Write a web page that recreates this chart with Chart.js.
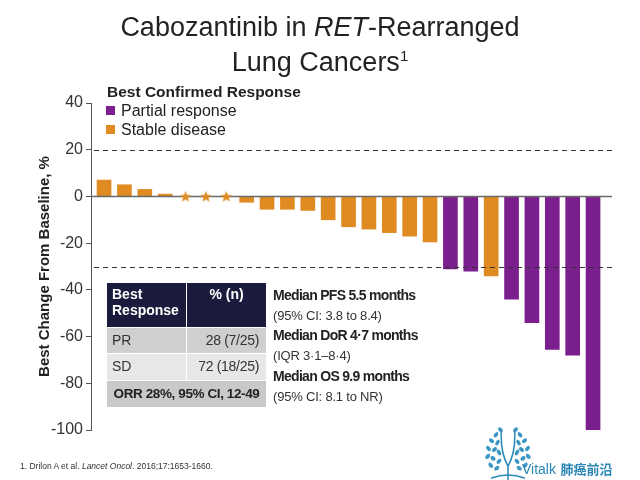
<!DOCTYPE html>
<html>
<head>
<meta charset="utf-8">
<script src="https://cdn.jsdelivr.net/npm/chart.js@4/dist/chart.umd.min.js"></script>
<style>
  html, body { margin: 0; padding: 0; background: #fff; }
  body { width: 640px; height: 480px; overflow: hidden; position: relative;
         font-family: "Liberation Sans", Arial, sans-serif; color: #222; }
  #c { position: absolute; left: 0; top: 0; }
  .abs { position: absolute; white-space: nowrap; }
  .title { left: 0; width: 640px; text-align: center; font-size: 27px; color: #222; line-height: 32px; }
  .leg-title { left: 107px; top: 83px; font-size: 15.5px; font-weight: bold; color: #222; }
  .leg-item { left: 106px; font-size: 16px; color: #222; line-height: 19px; }
  .sw { display: inline-block; width: 9px; height: 9px; margin-right: 6px; vertical-align: 1px; }
  #tbl { left: 107px; top: 283px; width: 159px; height: 124px; font-size: 14px; }
  #tbl .cell { position: absolute; box-sizing: border-box; }
  .stat { left: 273px; font-size: 13px; color: #333; letter-spacing: -0.2px; }
  .stat b { color: #222; font-size: 14px; letter-spacing: -0.7px; }
  .foot { left: 20px; top: 461px; font-size: 8.5px; color: #333; }
  .brand { left: 522px; top: 459px; color: #2a86b4; }
</style>
</head>
<body>
<canvas id="c" width="640" height="480"></canvas>

<div class="abs title" style="top:11px">Cabozantinib in <i>RET</i>-Rearranged</div>
<div class="abs title" style="top:46px">Lung Cancers<sup style="font-size:15px;vertical-align:10px;line-height:0">1</sup></div>

<div class="abs leg-title">Best Confirmed Response</div>
<div class="abs leg-item" id="leg1" style="top:101px"></div>
<div class="abs leg-item" id="leg2" style="top:120px"></div>

<div class="abs" id="tbl"></div>

<div class="abs stat" style="top:287px"><b>Median PFS 5.5 months</b></div>
<div class="abs stat" style="top:308px">(95% CI: 3.8 to 8.4)</div>
<div class="abs stat" style="top:327px"><b>Median DoR 4·7 months</b></div>
<div class="abs stat" style="top:348px">(IQR 3·1–8·4)</div>
<div class="abs stat" style="top:368px"><b>Median OS 9.9 months</b></div>
<div class="abs stat" style="top:389px">(95% CI: 8.1 to NR)</div>

<div class="abs foot">1. Drilon A et al. <i>Lancet Oncol</i>. 2016;17:1653-1660.</div>

<svg class="abs" style="left:481px;top:423px" width="54" height="57" viewBox="0 0 72 58" preserveAspectRatio="none">
  <g fill="none" stroke="#2a86b4" stroke-width="2" stroke-linecap="round">
    <path d="M36 58 L36 44 M36 44 C30 36 26 26 27 8 M36 44 C42 36 46 26 45 8"/>
    <path d="M14 56 Q36 50 58 56" stroke-width="1.5"/>
  </g>
  <g fill="#3d97c2">
    <ellipse cx="20" cy="12" rx="3.5" ry="2.2" transform="rotate(-30 20 12)"/>
    <ellipse cx="14" cy="18" rx="3.5" ry="2.2" transform="rotate(20 14 18)"/>
    <ellipse cx="22" cy="20" rx="3.5" ry="2.2" transform="rotate(-40 22 20)"/>
    <ellipse cx="10" cy="26" rx="3.5" ry="2.2" transform="rotate(30 10 26)"/>
    <ellipse cx="18" cy="27" rx="3.5" ry="2.2" transform="rotate(-20 18 27)"/>
    <ellipse cx="24" cy="30" rx="3.5" ry="2.2" transform="rotate(40 24 30)"/>
    <ellipse cx="9" cy="34" rx="3.5" ry="2.2" transform="rotate(-30 9 34)"/>
    <ellipse cx="16" cy="36" rx="3.5" ry="2.2" transform="rotate(20 16 36)"/>
    <ellipse cx="24" cy="39" rx="3.5" ry="2.2" transform="rotate(-30 24 39)"/>
    <ellipse cx="13" cy="43" rx="3.5" ry="2.2" transform="rotate(30 13 43)"/>
    <ellipse cx="21" cy="46" rx="3.5" ry="2.2" transform="rotate(-20 21 46)"/>
    <ellipse cx="26" cy="7" rx="3.5" ry="2.2" transform="rotate(30 26 7)"/>
    <ellipse cx="52" cy="12" rx="3.5" ry="2.2" transform="rotate(30 52 12)"/>
    <ellipse cx="58" cy="18" rx="3.5" ry="2.2" transform="rotate(-20 58 18)"/>
    <ellipse cx="50" cy="20" rx="3.5" ry="2.2" transform="rotate(40 50 20)"/>
    <ellipse cx="62" cy="26" rx="3.5" ry="2.2" transform="rotate(-30 62 26)"/>
    <ellipse cx="54" cy="27" rx="3.5" ry="2.2" transform="rotate(20 54 27)"/>
    <ellipse cx="48" cy="30" rx="3.5" ry="2.2" transform="rotate(-40 48 30)"/>
    <ellipse cx="63" cy="34" rx="3.5" ry="2.2" transform="rotate(30 63 34)"/>
    <ellipse cx="56" cy="36" rx="3.5" ry="2.2" transform="rotate(-20 56 36)"/>
    <ellipse cx="48" cy="39" rx="3.5" ry="2.2" transform="rotate(30 48 39)"/>
    <ellipse cx="59" cy="43" rx="3.5" ry="2.2" transform="rotate(-30 59 43)"/>
    <ellipse cx="51" cy="46" rx="3.5" ry="2.2" transform="rotate(20 51 46)"/>
    <ellipse cx="46" cy="7" rx="3.5" ry="2.2" transform="rotate(-30 46 7)"/>
  </g>
</svg>
<div class="abs brand"><span style="font-family:'Liberation Sans',Arial,sans-serif;font-size:14px">Vitalk</span> <span style="font-family:'Noto Sans CJK SC',sans-serif;font-weight:bold;font-size:13px">肺癌前沿</span></div>

<script>
// ---------- data ----------
const patients = ['1','2','3','4','5','6','7','8','9','10','11','12','13','14','15','16','17','18','19','20','21','22','23','24','25'];
const bestChange = [7, 5, 3, 1, 0, 0, 0, -2.5, -5.5, -5.5, -6, -10, -13, -14, -15.5, -17, -19.5, -31, -32, -34, -44, -54, -65.5, -68, -100];
const response = ['SD','SD','SD','SD','SD','SD','SD','SD','SD','SD','SD','SD','SD','SD','SD','SD','SD','PR','PR','SD','PR','PR','PR','PR','PR'];
const noChangeMarker = [false,false,false,false,true,true,true,false,false,false,false,false,false,false,false,false,false,false,false,false,false,false,false,false,false];
const yTicks = [40, 20, 0, -20, -40, -60, -80, -100];
const thresholds = [20, -30];
const seriesNames = { PR: 'Partial response', SD: 'Stable disease' };
const tableHeader = ['Best\nResponse', '% (n)'];
const tableRows = [['PR', '28 (7/25)'], ['SD', '72 (18/25)']];
const tableFooter = 'ORR 28%, 95% CI, 12-49';

// ---------- styles ----------
const COLORS = { PR: '#7b1f8f', SD: '#e08b22' };
const FONT = '"Liberation Sans", Arial, sans-serif';

// legend (HTML)
document.getElementById('leg1').innerHTML = '<span class="sw" style="background:' + COLORS.PR + '"></span>' + seriesNames.PR;
document.getElementById('leg2').innerHTML = '<span class="sw" style="background:' + COLORS.SD + '"></span>' + seriesNames.SD;

// table (HTML)
(function buildTable() {
  const t = document.getElementById('tbl');
  const colX = 80; // divider
  const rowsY = [0, 44, 70, 97, 124];
  function cell(x, y, w, h, bg, html, css) {
    const d = document.createElement('div');
    d.className = 'cell';
    d.style.cssText = 'left:' + x + 'px;top:' + y + 'px;width:' + w + 'px;height:' + h + 'px;background:' + bg + ';' + (css || '');
    d.innerHTML = html;
    t.appendChild(d);
  }
  cell(0, 0, colX - 1, 44, '#1b1b3d', tableHeader[0].replace('\n', '<br>'), 'color:#fff;font-weight:bold;padding:3px 0 0 5px;line-height:16px;');
  cell(colX, 0, 159 - colX, 44, '#1b1b3d', tableHeader[1], 'color:#fff;font-weight:bold;text-align:center;padding-top:3px;line-height:16px;');
  const bgs = ['#cfcfcf', '#e7e7e7'];
  tableRows.forEach((r, i) => {
    const y = rowsY[i + 1] + 1, h = rowsY[i + 2] - rowsY[i + 1] - 1;
    cell(0, y, colX - 1, h, bgs[i], r[0], 'color:#333;padding:4px 0 0 5px;line-height:16px;');
    cell(colX, y, 159 - colX, h, bgs[i], r[1], 'color:#333;text-align:right;padding:4px 7px 0 0;line-height:16px;letter-spacing:-0.3px;');
  });
  cell(0, rowsY[3] + 1, 159, rowsY[4] - rowsY[3] - 1, '#c9c9c9', tableFooter, 'color:#222;font-weight:bold;text-align:center;padding-top:5px;line-height:16px;font-size:13.5px;letter-spacing:-0.4px;');
})();

// star marker image
function makeStar(color) {
  const c = document.createElement('canvas');
  c.width = 14; c.height = 14;
  const g = c.getContext('2d');
  g.fillStyle = color;
  g.beginPath();
  for (let k = 0; k < 10; k++) {
    const r = k % 2 === 0 ? 6 : 2.6;
    const a = -Math.PI / 2 + k * Math.PI / 5;
    const px = 7 + r * Math.cos(a), py = 7.5 + r * Math.sin(a);
    k === 0 ? g.moveTo(px, py) : g.lineTo(px, py);
  }
  g.closePath();
  g.fill();
  return c;
}
const starImg = makeStar(COLORS.SD);

function pointsFor(code) {
  const out = [];
  bestChange.forEach((v, i) => { if (response[i] === code) out.push({ x: i, y: v }); });
  return out;
}
const starPoints = [];
bestChange.forEach((v, i) => { if (noChangeMarker[i]) starPoints.push({ x: i, y: v }); });

const refLines = {
  id: 'refLines',
  beforeDatasetDraw(chart, args) {
    if (args.index !== 0) return;
    const { ctx, chartArea: a, scales: { y } } = chart;
    ctx.save();
    ctx.strokeStyle = '#6a6a6a';
    ctx.lineWidth = 1.5;
    const y0 = y.getPixelForValue(0);
    ctx.beginPath(); ctx.moveTo(a.left, y0); ctx.lineTo(a.right, y0); ctx.stroke();
    ctx.strokeStyle = '#333';
    ctx.lineWidth = 1;
    ctx.setLineDash([5, 4]);
    thresholds.forEach(t => {
      const py = Math.round(y.getPixelForValue(t)) + 0.5;
      ctx.beginPath(); ctx.moveTo(a.left + 3, py); ctx.lineTo(a.right, py); ctx.stroke();
    });
    ctx.restore();
  }
};

Chart.defaults.font.family = FONT;

new Chart(document.getElementById('c'), {
  data: {
    labels: patients,
    datasets: [
      { type: 'scatter', label: 'No change', data: starPoints, pointStyle: starImg, pointRadius: 6, showLine: false },
      { type: 'bar', label: seriesNames.PR, data: pointsFor('PR'), backgroundColor: COLORS.PR, barThickness: 14, grouped: false, borderWidth: 0 },
      { type: 'bar', label: seriesNames.SD, data: pointsFor('SD'), backgroundColor: COLORS.SD, barThickness: 14, grouped: false, borderWidth: 0 }
    ]
  },
  options: {
    responsive: false,
    animation: false,
    layout: { padding: { top: 103, bottom: 50, left: 0, right: 28 } },
    plugins: { legend: { display: false }, tooltip: { enabled: false } },
    scales: {
      x: { type: 'linear', min: -0.64, max: 24.93, display: false, offset: false },
      y: {
        min: -100, max: 40,
        afterBuildTicks: s => { s.ticks = yTicks.map(v => ({ value: v })); },
        afterFit: s => { s.width = 91; },
        ticks: { font: { size: 16 }, color: '#333', padding: 3 },
        grid: { drawOnChartArea: false, drawTicks: true, tickLength: 5, color: '#555' },
        border: { display: true, color: '#555', width: 1 },
        title: { display: true, text: 'Best Change From Baseline, %', font: { size: 15, weight: 'bold' }, color: '#222', padding: { top: 36, bottom: 0 } }
      }
    }
  },
  plugins: [refLines]
});
</script>
</body>
</html>
